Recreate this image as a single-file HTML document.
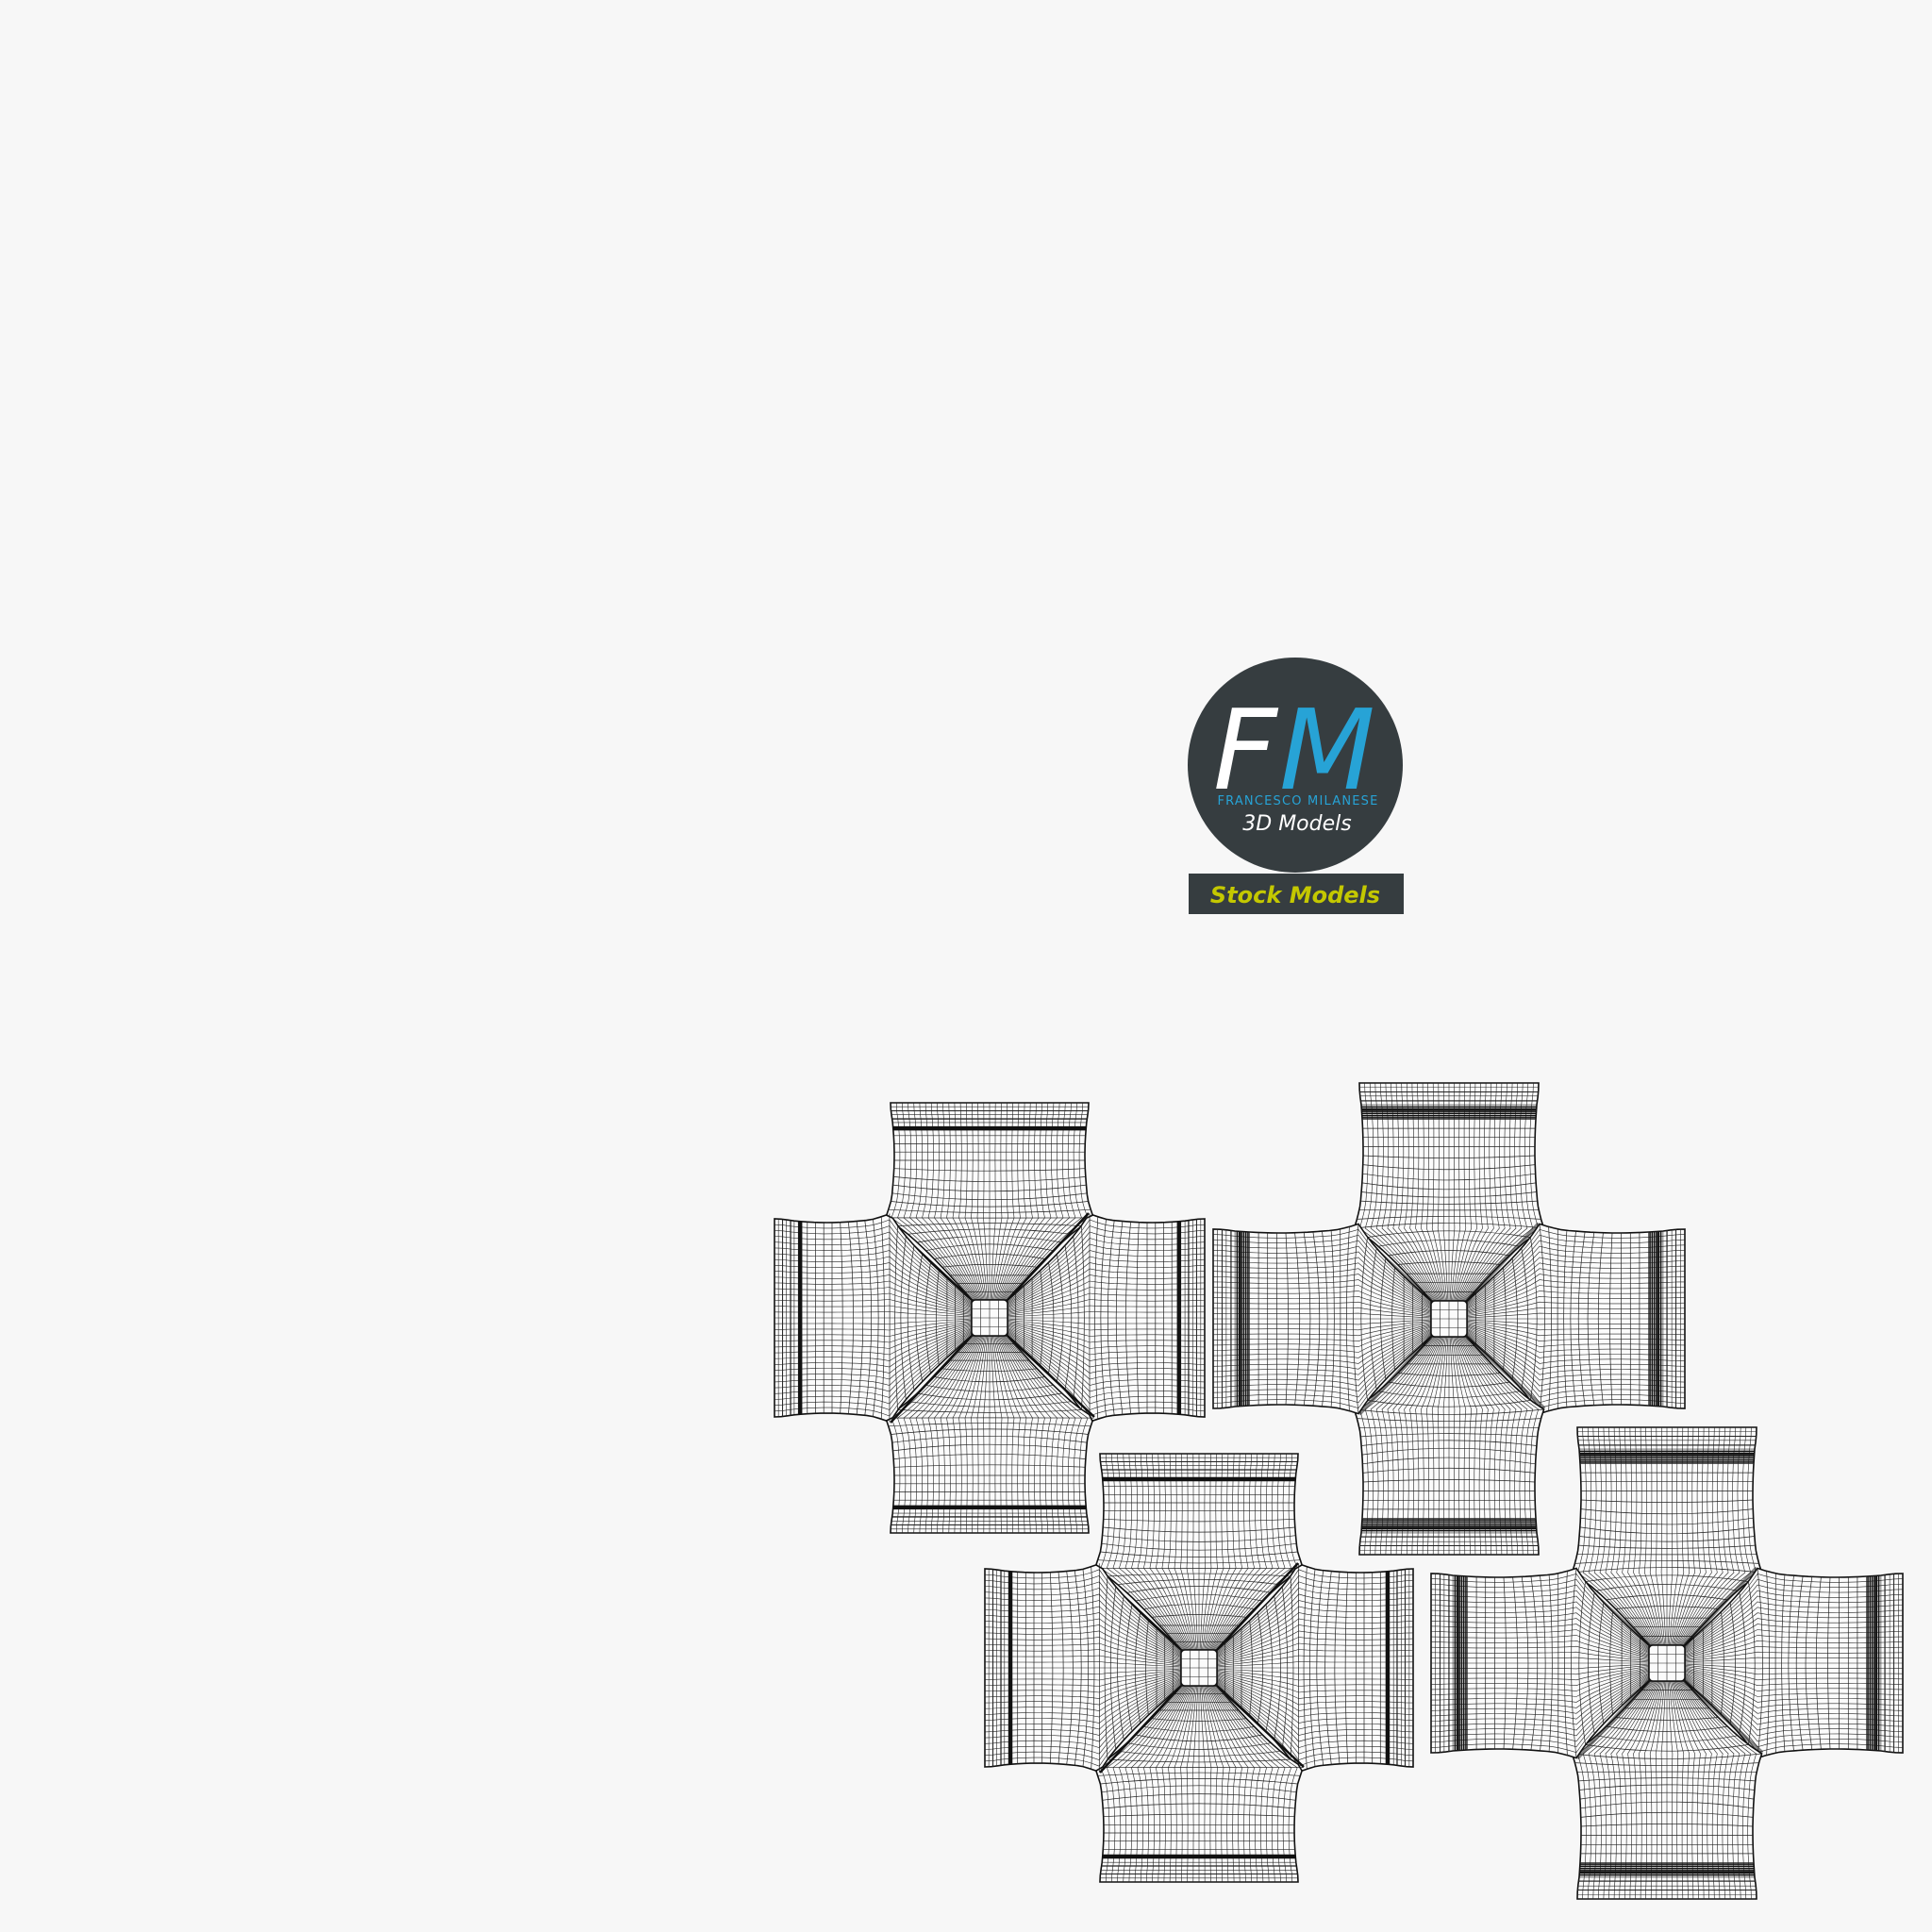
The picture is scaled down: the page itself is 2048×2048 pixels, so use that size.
<!DOCTYPE html>
<html><head><meta charset="utf-8"><style>
html,body{margin:0;padding:0;background:#f7f7f7;}
body{width:2048px;height:2048px;position:relative;overflow:hidden;font-family:"Liberation Sans","DejaVu Sans",sans-serif;}
svg{position:absolute;left:0;top:0;}
</style></head><body>
<svg id="s" width="2048" height="2048" viewBox="0 0 2048 2048" xmlns="http://www.w3.org/2000/svg">
<circle cx="1373" cy="811" r="114" fill="#363d40"/>
<rect x="1260" y="926" width="228" height="43" fill="#363d40"/>
<text x="1286" y="836" font-family="DejaVu Sans, sans-serif" font-size="118" font-style="italic" fill="#ffffff">F</text>
<text x="1356" y="836" font-family="DejaVu Sans, sans-serif" font-size="118" font-style="italic" fill="#27a3d6">M</text>
<text x="1376" y="853" text-anchor="middle" font-family="DejaVu Sans, sans-serif" font-size="13" letter-spacing="1.2" fill="#27a3d6">FRANCESCO MILANESE</text>
<text x="1375" y="880" text-anchor="middle" font-family="DejaVu Sans, sans-serif" font-size="22" font-style="italic" fill="#ffffff">3D Models</text>
<text x="1373" y="957" text-anchor="middle" font-family="DejaVu Sans, sans-serif" font-size="24" font-weight="bold" font-style="italic" fill="#c4c800">Stock Models</text>
<g id="crosses"></g>
</svg>
<script>
var g=document.getElementById('crosses');var out='';
function cross(cx,cy,R,w,dark){
  var s=19,N=34,M=24,parts='';
  function pt(u,v){var y=-R+v*(R-s);var hw;
    if(y< -w/2){var t=(y+R)/(R-w/2);hw=w/2-4*Math.sin(Math.PI*Math.min(1,t*1.1))*(t>0.15?1:t/0.15)+(t>0.8?6*(t-0.8)/0.2*(t-0.8)/0.2:0);}
    else {var t=(y+w/2)/(w/2-s);hw=w/2+6+(s-w/2-6)*Math.pow(t,0.8);}
    return [(2*u-1)*hw,y];}
  for(var a=0;a<4;a++){
    var p='';
    var poly=[];for(var k=0;k<=30;k++)poly.push(pt(0,k/30));for(var k=30;k>=0;k--)poly.push(pt(1,k/30));
    p+='<polygon points="'+poly.map(function(q){return q[0].toFixed(1)+','+q[1].toFixed(1)}).join(' ')+'" fill="#fbfbfb" stroke="#111" stroke-width="1.6"/>';
    for(var i=1;i<N;i++){var u=i/N,d='';for(var k=0;k<=24;k++){var q=pt(u,k/24);d+=(k?'L':'M')+q[0].toFixed(1)+' '+q[1].toFixed(1);}
      p+='<path d="'+d+'" fill="none" stroke="#222" stroke-width="0.6"/>';}
    for(var j=1;j<M;j++){var v=j/M;var q1=pt(0,v),q2=pt(1,v);
      var mid=(v>0.3&&v<0.85)?(14*Math.sin((v-0.3)*11)):0;
      p+='<path d="M'+q1[0].toFixed(1)+' '+q1[1].toFixed(1)+' Q0 '+(q1[1]+mid).toFixed(1)+' '+q2[0].toFixed(1)+' '+q2[1].toFixed(1)+'" fill="none" stroke="#222" stroke-width="0.7"/>';}
    for(var j=1;j<6;j++){var q1=pt(0,j*0.02),q2=pt(1,j*0.02);p+='<line x1="'+q1[0]+'" y1="'+q1[1]+'" x2="'+q2[0]+'" y2="'+q2[1]+'" stroke="#222" stroke-width="0.6"/>';}
    var bands=dark?[0.11,0.12,0.13,0.14,0.15,0.16]:[0.125,0.135];
    bands.forEach(function(v){var q1=pt(0,v),q2=pt(1,v);p+='<line x1="'+q1[0]+'" y1="'+q1[1]+'" x2="'+q2[0]+'" y2="'+q2[1]+'" stroke="#111" stroke-width="'+(dark?1.6:2.4)+'"/>';});
    var c1=pt(0,1),c0=pt(0,(R-w/2)/(R-s));
    p+='<line x1="'+c0[0]+'" y1="'+c0[1]+'" x2="'+c1[0]+'" y2="'+c1[1]+'" stroke="#111" stroke-width="'+(dark?4:2.5)+'" stroke-opacity="'+(dark?0.5:1)+'"/>';
    parts+='<g transform="rotate('+(a*90)+')">'+p+'</g>';
  }
  parts+='<rect x="'+(-s)+'" y="'+(-s)+'" width="'+(2*s)+'" height="'+(2*s)+'" rx="4" fill="#fbfbfb" stroke="#111" stroke-width="1.5"/>';
  for(var i=1;i<4;i++){var x=-s+i*2*s/4;parts+='<line x1="'+x+'" y1="'+(-s)+'" x2="'+x+'" y2="'+s+'" stroke="#222" stroke-width="0.6"/><line x1="'+(-s)+'" y1="'+x+'" x2="'+s+'" y2="'+x+'" stroke="#222" stroke-width="0.6"/>';}
  out+='<g transform="translate('+cx+','+cy+')">'+parts+'</g>';
}
cross(1049,1397,228,210,false);
cross(1536,1398,250,190,true);
cross(1271,1768,227,210,false);
cross(1767,1763,250,190,true);
g.innerHTML=out;
</script>
</body></html>
